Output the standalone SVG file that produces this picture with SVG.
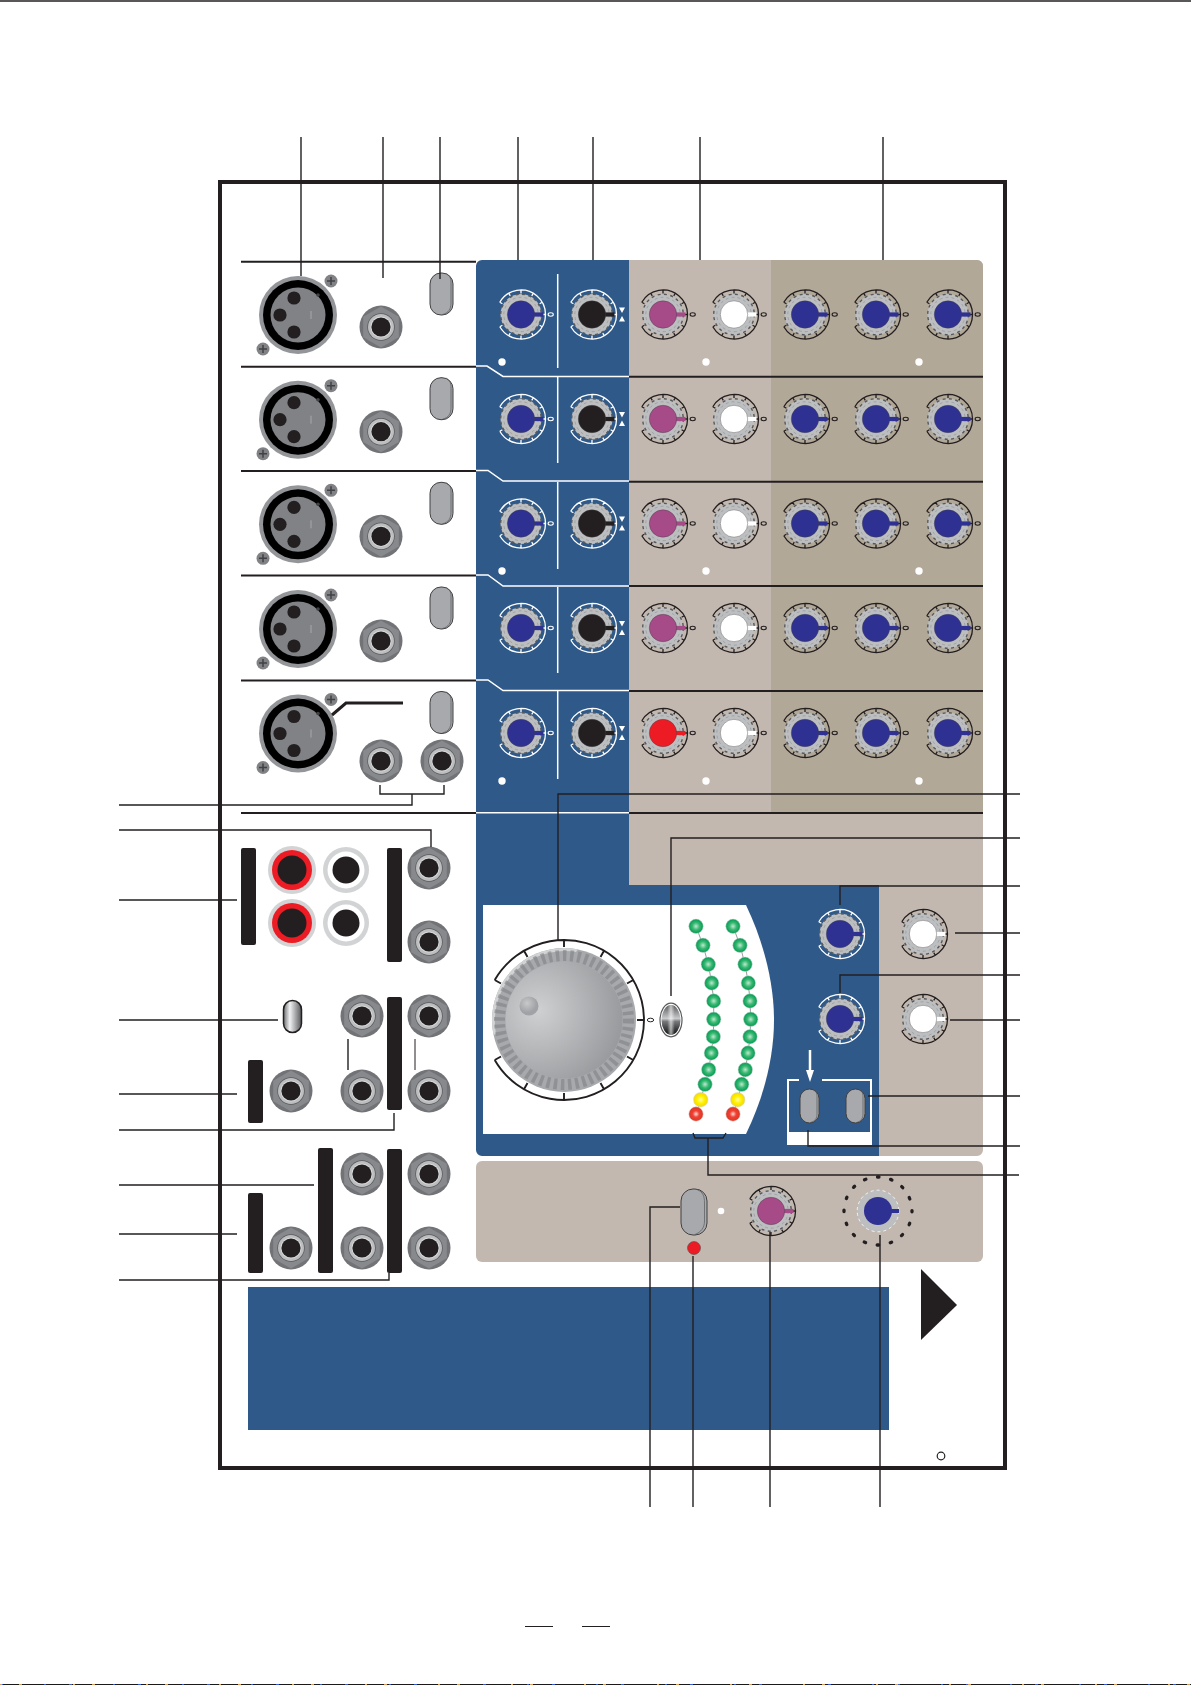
<svg xmlns="http://www.w3.org/2000/svg" width="1191" height="1685" viewBox="0 0 1191 1685">
<style>
.ld{fill:none;stroke:#231f20;stroke-width:1.4}
.lt{fill:none;stroke:#231f20;stroke-width:2}
.wl{fill:none;stroke:#fff;stroke-width:1.5}
.bar{fill:#231f20}
.dot{fill:#fff}
.blue{color:#2e3192}
.pink{color:#a64a88}
.wht{color:#fff}
.blk{color:#231f20}
.red{color:#ed1c24}
.onb{stroke:#fff}
.ont{stroke:#231f20}
.led{stroke:#d1d3d4;stroke-width:.5}
</style>
<defs>
<radialGradient id="gG"><stop offset="0" stop-color="#bfe8cd"/><stop offset=".5" stop-color="#39b873"/><stop offset="1" stop-color="#009a50"/></radialGradient>
<radialGradient id="gY"><stop offset="0" stop-color="#fffbb0"/><stop offset=".5" stop-color="#fff200"/><stop offset="1" stop-color="#f5d800"/></radialGradient>
<radialGradient id="gR"><stop offset="0" stop-color="#fde0d8"/><stop offset=".45" stop-color="#ef4136"/><stop offset="1" stop-color="#e0351f"/></radialGradient>
<radialGradient id="gCap" cx=".28" cy=".42" r=".85"><stop offset="0" stop-color="#cfd0d2"/><stop offset="1" stop-color="#8f9194"/></radialGradient>
<radialGradient id="gDim" cx=".4" cy=".35"><stop offset="0" stop-color="#c8c9cb"/><stop offset="1" stop-color="#a0a2a5"/></radialGradient>
<linearGradient id="gTog" x1="0" y1="0" x2="0" y2="1"><stop offset="0" stop-color="#58595b"/><stop offset=".45" stop-color="#c8c9cb"/><stop offset=".55" stop-color="#77787b"/><stop offset="1" stop-color="#0c0c0c"/></linearGradient>
<linearGradient id="gTogC"><stop offset=".3" stop-color="#fff" stop-opacity="0"/><stop offset=".5" stop-color="#fff" stop-opacity=".6"/><stop offset=".7" stop-color="#fff" stop-opacity="0"/></linearGradient>
<linearGradient id="gSw"><stop offset="0" stop-color="#6d6e71"/><stop offset=".35" stop-color="#f1f2f2"/><stop offset="1" stop-color="#58595b"/></linearGradient>
<g id="knob">
<path fill="none" stroke-width="1.3" d="M-21.2 12.25A24.5 24.5 0 1 0-21.2-12.25M24.5 0H21M21.2 12.25L18.6 10.75M12.25 21.2L10.75 18.6M0 24.5V21M-12.25 21.2L-10.75 18.6M-21.2 12.25L-18.6 10.75M21.2-12.25L18.6-10.75M12.25-21.2L10.75-18.6M0-24.5V-21M-12.25-21.2L-10.75-18.6M-21.2-12.25L-18.6-10.75"/>
<circle r="20.5" fill="#bcbec0" stroke="none"/>
<circle r="20.3" fill="none" stroke="#58595b" stroke-width="1.4" stroke-dasharray="3 3.4"/>
<circle r="17.2" fill="none" stroke="#939598" stroke-width=".7" stroke-dasharray="3 3"/>
<rect x="12" y="-2.1" width="10.5" height="4.2" fill="currentColor" stroke="none"/>
<circle r="13.7" fill="currentColor" stroke="#414042" stroke-width=".4"/>
</g>
<g id="knobz"><use href="#knob"/><ellipse cx="29.7" rx="2.6" ry="1.7" fill="none" stroke-width="1.1"/></g>
<g id="hg"><path d="M-3-7H3L0-1.5ZM-3 7H3L0 1.5Z" fill="#fff"/></g>
<g id="xlr">
<circle r="39" fill="#939598"/><circle r="35" fill="#000"/><circle r="27.5" fill="#808285"/>
<circle cx="-4" cy="-17" r="6.6" fill="#231f20"/><circle cx="-18" r="6.6" fill="#231f20"/><circle cx="-4" cy="17" r="6.6" fill="#231f20"/>
<circle cx="20" cy="-20" r="1.8" fill="#414042"/><rect x="12" y="-4" width="2" height="8" fill="#939598"/>
<circle cx="33" cy="-34" r="6.5" fill="#808285"/><path d="M33-38V-30M29-34H37" stroke="#414042" stroke-width="1.500"/>
<circle cx="-35" cy="34" r="6.5" fill="#808285"/><path d="M-35 30V38M-39 34H-31" stroke="#414042" stroke-width="1.500"/>
</g>
<g id="jack">
<circle r="21.5" fill="#727376"/>
<path d="M0-20.5L17.8-10.2V10.2L0 20.5L-17.8 10.2V-10.2Z" fill="#87898c"/>
<circle r="13.7" fill="#58595b"/><circle r="13" fill="#bcbec0"/><circle r="10.5" fill="#d9dadb"/><circle r="9.6" fill="#231f20"/>
</g>
<g id="rcar"><circle r="24" fill="#d1d3d4"/><circle r="20" fill="#ed1c24"/><circle r="14.5" fill="#231f20"/></g>
<g id="rcaw"><circle r="23" fill="#d1d3d4"/><circle r="18.5" fill="#fff"/><circle r="13.5" fill="#231f20"/></g>
<g id="sw"><rect x="-11.5" y="-21" width="23" height="42" rx="11" fill="#a7a9ac" stroke="#414042" stroke-width="1"/><path d="M5-20.5C9.500-17 9.500-15 9.500-10V9C9.500 15 7 19 1 20.500" fill="none" stroke="#58595b" stroke-width=".7"/></g>
<g id="sws"><rect x="-9.500" y="-17" width="19" height="34" rx="9.500" fill="#a7a9ac" stroke="#414042" stroke-width="1"/><path d="M4-16C7.500-14 7.500-12 7.500-8V8C7.500 12 6 15 1 16.500" fill="none" stroke="#58595b" stroke-width=".7"/></g>
</defs>

<g id="page">
<rect width="1191" height="1685" fill="#fff"/>
<path d="M0 1H1191" stroke="#231f20" stroke-width="1.4"/>
<path d="M0 1684.500H1191" stroke="#1a1a1a" stroke-width="1"/>
<path d="M0 1684.500H1191" stroke="#3b5bd0" stroke-width="1" stroke-dasharray="3 41 2 23"/>
<path d="M0 1684.500H1191" stroke="#d8a060" stroke-width="1" stroke-dasharray="2 17 3 51"/>
<path d="M525 1626.500H553M582 1626.500H610" stroke="#231f20" stroke-width="1.2"/>
</g>

<g id="panels">
<path d="M482 260H629V885H879V1156H482A6 6 0 0 1 476 1150V266A6 6 0 0 1 482 260Z" fill="#2f5989"/>
<path d="M629 260H977A6 6 0 0 1 983 266V1150A6 6 0 0 1 977 1156H879V885H629Z" fill="#c2b8af"/>
<path d="M771 260H977A6 6 0 0 1 983 266V813H771Z" fill="#b2a898"/>
<path d="M482 1161H977A6 6 0 0 1 983 1167V1256A6 6 0 0 1 977 1262H482A6 6 0 0 1 476 1256V1167A6 6 0 0 1 482 1161Z" fill="#c2b8af"/>
<path d="M483 905H746C765 945 774 985 774 1020C774 1055 765 1095 746 1134H483Z" fill="#fff"/>
<rect x="248" y="1287" width="641" height="143" fill="#2f5989"/>
<path d="M921 1269L957 1305L921 1340Z" fill="#231f20"/>
<rect x="220" y="182" width="785" height="1286" fill="none" stroke="#231f20" stroke-width="4"/>
<circle cx="941" cy="1456" r="3.8" fill="none" stroke="#231f20" stroke-width="1.2"/>
</g>

<g id="row-lines">
<path class="lt" d="M241 261.700H476M241 366.700H476M241 471H476M241 575.500H476M241 680.500H476M241 813H476"/>
<path class="wl" d="M476 366H487L503 376.500H629M476 470.500H488L503 481H629M476 575H488L503 586H629M476 680H488L503 690.500H629M476 812.700H629M557.700 274V368M557.700 377V463M557.700 482V569M557.700 587V673M557.700 691V779"/>
<path class="lt" d="M629 376.700H983M629 481.700H983M629 586H983M629 691H983M629 813H983"/>
<circle class="dot" cx="502" cy="362" r="3.700"/><circle class="dot" cx="706" cy="362" r="3.700"/><circle class="dot" cx="919" cy="362" r="3.700"/>
<circle class="dot" cx="502" cy="571" r="3.700"/><circle class="dot" cx="706" cy="571" r="3.700"/><circle class="dot" cx="919" cy="571" r="3.700"/>
<circle class="dot" cx="502" cy="781" r="3.700"/><circle class="dot" cx="706" cy="781" r="3.700"/><circle class="dot" cx="919" cy="781" r="3.700"/>
<circle class="dot" cx="721" cy="1211" r="3.300"/>
</g>

<g id="channel-1">
<g id="xlr-1"><use href="#xlr" x="298" y="315"/></g>
<g id="jack-1"><use href="#jack" x="381" y="327"/></g>
<g id="switch-1"><use href="#sw" x="441.500" y="294"/></g>
<g id="k1-1"><use href="#knobz" x="521" y="314.500" class="blue onb"/></g>
<g id="k1-2"><use href="#knob" x="592" y="314.500" class="blk onb"/><use href="#hg" x="622" y="314.500"/></g>
<g id="k1-3"><use href="#knobz" x="663" y="314.500" class="pink ont"/></g>
<g id="k1-4"><use href="#knobz" x="734" y="314.500" class="wht ont"/></g>
<g id="k1-5"><use href="#knobz" x="805" y="314.500" class="blue ont"/></g>
<g id="k1-6"><use href="#knobz" x="876" y="314.500" class="blue ont"/></g>
<g id="k1-7"><use href="#knobz" x="948" y="314.500" class="blue ont"/></g>
</g>
<g id="channel-2">
<g id="xlr-2"><use href="#xlr" x="298" y="419.700"/></g>
<g id="jack-2"><use href="#jack" x="381" y="431.700"/></g>
<g id="switch-2"><use href="#sw" x="441.500" y="398.700"/></g>
<g id="k2-1"><use href="#knobz" x="521" y="419" class="blue onb"/></g>
<g id="k2-2"><use href="#knob" x="592" y="419" class="blk onb"/><use href="#hg" x="622" y="419"/></g>
<g id="k2-3"><use href="#knobz" x="663" y="419" class="pink ont"/></g>
<g id="k2-4"><use href="#knobz" x="734" y="419" class="wht ont"/></g>
<g id="k2-5"><use href="#knobz" x="805" y="419" class="blue ont"/></g>
<g id="k2-6"><use href="#knobz" x="876" y="419" class="blue ont"/></g>
<g id="k2-7"><use href="#knobz" x="948" y="419" class="blue ont"/></g>
</g>
<g id="channel-3">
<g id="xlr-3"><use href="#xlr" x="298" y="524.300"/></g>
<g id="jack-3"><use href="#jack" x="381" y="536.300"/></g>
<g id="switch-3"><use href="#sw" x="441.500" y="503.300"/></g>
<g id="k3-1"><use href="#knobz" x="521" y="523.500" class="blue onb"/></g>
<g id="k3-2"><use href="#knob" x="592" y="523.500" class="blk onb"/><use href="#hg" x="622" y="523.500"/></g>
<g id="k3-3"><use href="#knobz" x="663" y="523.500" class="pink ont"/></g>
<g id="k3-4"><use href="#knobz" x="734" y="523.500" class="wht ont"/></g>
<g id="k3-5"><use href="#knobz" x="805" y="523.500" class="blue ont"/></g>
<g id="k3-6"><use href="#knobz" x="876" y="523.500" class="blue ont"/></g>
<g id="k3-7"><use href="#knobz" x="948" y="523.500" class="blue ont"/></g>
</g>
<g id="channel-4">
<g id="xlr-4"><use href="#xlr" x="298" y="629"/></g>
<g id="jack-4"><use href="#jack" x="381" y="641"/></g>
<g id="switch-4"><use href="#sw" x="441.500" y="608"/></g>
<g id="k4-1"><use href="#knobz" x="521" y="628" class="blue onb"/></g>
<g id="k4-2"><use href="#knob" x="592" y="628" class="blk onb"/><use href="#hg" x="622" y="628"/></g>
<g id="k4-3"><use href="#knobz" x="663" y="628" class="pink ont"/></g>
<g id="k4-4"><use href="#knobz" x="734" y="628" class="wht ont"/></g>
<g id="k4-5"><use href="#knobz" x="805" y="628" class="blue ont"/></g>
<g id="k4-6"><use href="#knobz" x="876" y="628" class="blue ont"/></g>
<g id="k4-7"><use href="#knobz" x="948" y="628" class="blue ont"/></g>
</g>
<g id="channel-5">
<g id="xlr-5"><use href="#xlr" x="298" y="733.500"/></g>
<g id="jack-5a"><use href="#jack" x="381" y="761"/></g>
<g id="jack-5b"><use href="#jack" x="442" y="761"/></g>
<g id="switch-5"><use href="#sw" x="441.500" y="712.500"/></g>
<g id="k5-1"><use href="#knobz" x="521" y="733" class="blue onb"/></g>
<g id="k5-2"><use href="#knob" x="592" y="733" class="blk onb"/><use href="#hg" x="622" y="733"/></g>
<g id="k5-3"><use href="#knobz" x="663" y="733" class="red ont"/></g>
<g id="k5-4"><use href="#knobz" x="734" y="733" class="wht ont"/></g>
<g id="k5-5"><use href="#knobz" x="805" y="733" class="blue ont"/></g>
<g id="k5-6"><use href="#knobz" x="876" y="733" class="blue ont"/></g>
<g id="k5-7"><use href="#knobz" x="948" y="733" class="blue ont"/></g>
</g>

<g id="rear-io">
<rect class="bar" x="241" y="848" width="15" height="97" rx="2"/>
<rect class="bar" x="387" y="848" width="15" height="114" rx="2"/>
<rect class="bar" x="248" y="1060" width="15" height="63" rx="2"/>
<rect class="bar" x="387" y="997" width="15" height="113" rx="2"/>
<rect class="bar" x="318" y="1148" width="15" height="125" rx="2"/>
<rect class="bar" x="387" y="1149" width="15" height="124" rx="2"/>
<rect class="bar" x="248" y="1193" width="15" height="80" rx="2"/>
<g id="rca-1"><use href="#rcar" x="292" y="870"/></g>
<g id="rca-2"><use href="#rcaw" x="346" y="870"/></g>
<g id="rca-3"><use href="#rcar" x="292" y="923"/></g>
<g id="rca-4"><use href="#rcaw" x="346" y="923"/></g>
<g id="jack-a"><use href="#jack" x="429" y="868"/></g>
<g id="jack-b"><use href="#jack" x="429" y="942"/></g>
<g id="jack-c"><use href="#jack" x="291" y="1091"/></g>
<g id="jack-d"><use href="#jack" x="362" y="1016"/></g>
<g id="jack-e"><use href="#jack" x="362" y="1091"/></g>
<g id="jack-f"><use href="#jack" x="429" y="1016"/></g>
<g id="jack-g"><use href="#jack" x="429" y="1091"/></g>
<g id="jack-h"><use href="#jack" x="362" y="1174"/></g>
<g id="jack-i"><use href="#jack" x="429" y="1174"/></g>
<g id="jack-j"><use href="#jack" x="291" y="1248"/></g>
<g id="jack-k"><use href="#jack" x="362" y="1248"/></g>
<g id="jack-l"><use href="#jack" x="429" y="1248"/></g>
<g id="small-toggle"><rect x="283.500" y="1000.500" width="18" height="32" rx="9" fill="url(#gSw)" stroke="#231f20" stroke-width="1.500"/></g>
</g>

<g id="main-knob">
<path fill="none" stroke="#231f20" stroke-width="1.900" d="M494.700 1060A80 80 0 1 0 494.700 980M644 1020H637M633.300 1060L627 1056.500M604 1089.300L600.500 1083M564 1100V1093M524 1089.300L527.500 1083M494.700 1060L501 1056.500M633.300 980L627 983.500M604 950.700L600.500 957M564 940V947M524 950.700L527.500 957M494.700 980L501 983.500"/>
<circle cx="564" cy="1020" r="72" fill="#a7a9ac"/>
<path d="M493.500 1035A72 72 0 0 1 578 949.500L576 952A70 70 0 0 0 496 1034Z" fill="#d1d3d4"/>
<circle cx="564" cy="1020" r="64.500" fill="none" stroke="#808285" stroke-width="11" stroke-dasharray="3.500 3.700" opacity=".6"/>
<circle cx="564" cy="1020" r="58.500" fill="url(#gCap)"/>
<circle cx="529" cy="1006" r="9.500" fill="url(#gDim)"/>
<ellipse cx="650.500" cy="1020" rx="3.200" ry="1.800" fill="none" stroke="#231f20" stroke-width="1"/>
</g>
<g id="main-toggle">
<ellipse cx="671" cy="1020" rx="11" ry="16.800" fill="#fff" stroke="#58595b" stroke-width="1.200"/>
<ellipse cx="671" cy="1020" rx="9.500" ry="15" fill="url(#gTog)"/>
<ellipse cx="671" cy="1020" rx="9.500" ry="15" fill="url(#gTogC)"/>
</g>
<g id="meters">
<path fill="none" stroke="#808285" stroke-width=".8" d="M696 926.300L703 945.300L708.300 964.300L711.700 983L713.700 1001L713.700 1019.300L713.300 1036.700L711.300 1053L708.700 1069.700L705 1084.300L700.700 1099.700L696 1114M733 926.300L740 945.300L745 964.300L748.300 983L750 1001L750.700 1019.300L750 1036.700L748 1053L745.300 1069.700L741.700 1084.300L737.700 1099.700L733 1114"/>
<g class="led" fill="url(#gG)">
<circle cx="696" cy="926.300" r="7.200"/><circle cx="703" cy="945.300" r="7.200"/><circle cx="708.300" cy="964.300" r="7.200"/><circle cx="711.700" cy="983" r="7.200"/><circle cx="713.700" cy="1001" r="7.200"/><circle cx="713.700" cy="1019.300" r="7.200"/><circle cx="713.300" cy="1036.700" r="7.200"/><circle cx="711.300" cy="1053" r="7.200"/><circle cx="708.700" cy="1069.700" r="7.200"/><circle cx="705" cy="1084.300" r="7.200"/>
<circle cx="733" cy="926.300" r="7.200"/><circle cx="740" cy="945.300" r="7.200"/><circle cx="745" cy="964.300" r="7.200"/><circle cx="748.300" cy="983" r="7.200"/><circle cx="750" cy="1001" r="7.200"/><circle cx="750.700" cy="1019.300" r="7.200"/><circle cx="750" cy="1036.700" r="7.200"/><circle cx="748" cy="1053" r="7.200"/><circle cx="745.300" cy="1069.700" r="7.200"/><circle cx="741.700" cy="1084.300" r="7.200"/>
</g>
<g class="led" fill="url(#gY)"><circle cx="700.700" cy="1099.700" r="7.200"/><circle cx="737.700" cy="1099.700" r="7.200"/></g>
<g class="led" fill="url(#gR)"><circle cx="696" cy="1114" r="7.200"/><circle cx="733" cy="1114" r="7.200"/></g>
</g>

<g id="master-controls">
<g id="master-k1"><use href="#knob" x="840" y="934" class="blue onb"/></g>
<g id="master-k2"><use href="#knob" x="840" y="1019" class="blue onb"/></g>
<g id="master-k3"><use href="#knob" x="923" y="934" class="wht ont"/></g>
<g id="master-k4"><use href="#knob" x="923" y="1019" class="wht ont"/></g>
<g id="switch-box">
<rect x="787" y="1079" width="85" height="66" fill="#fff"/>
<rect x="789" y="1081" width="81" height="51" fill="#2f5989"/>
<rect x="799" y="1079" width="23" height="2" fill="#2f5989"/>
<path d="M810 1050V1072" stroke="#fff" stroke-width="2.500"/><path d="M806 1070H814L810 1082Z" fill="#fff"/>
<g id="switch-l"><use href="#sws" x="809.500" y="1106"/></g>
<g id="switch-r"><use href="#sws" x="855.500" y="1106"/></g>
</g>
</g>

<g id="bottom-controls">
<g id="power-switch"><rect x="681" y="1189" width="26" height="46" rx="12" fill="#a7a9ac" stroke="#414042" stroke-width="1"/><path d="M697 1189.500C703 1192 704.500 1196 704.500 1203V1221C704.500 1228 701 1232 695 1234.500" fill="none" stroke="#58595b" stroke-width=".7"/></g>
<g id="power-led"><circle cx="694" cy="1248" r="6.500" fill="#ed1c24" stroke="#414042" stroke-width=".5"/></g>
<g id="pink-knob"><use href="#knob" x="771" y="1211" class="pink ont"/></g>
<g id="dial-knob">
<circle cx="878" cy="1211" r="34" fill="none" stroke="#231f20" stroke-width="3.300" stroke-linecap="round" stroke-dasharray="1.500 11.850" stroke-dashoffset=".750"/>
<circle cx="878" cy="1211" r="21" fill="#bcbec0"/><circle cx="878" cy="1211" r="20.800" fill="none" stroke="#fff" stroke-width=".8" stroke-dasharray="3 3"/>
<rect x="890" y="1209" width="9" height="4" fill="#2e3192"/>
<circle cx="878" cy="1211" r="14" fill="#2e3192"/>
</g>
</g>

<g id="connectors">
<path class="ld" d="M301 137V276M383 137V278M440 137V279M518 137V260M593 137V260M700 137V260M883 137V260"/>
<path class="ld" d="M119 805H412V794M380 785V794H444V785"/>
<path class="ld" d="M119 830H431V847M119 900H237M119 1020H278M119 1094H237M119 1130H394V1113M119 1185H314M119 1234H237M119 1280H389V1273"/>
<path class="ld" d="M558 940V794H1020M671 996V838H1020M840 905V886H1020M955 933H1020M840 993V975H1020M950 1020H1020M868 1096H1020M808 1130V1146H1020"/>
<path class="ld" d="M693 1133L695 1138H723L726 1133M708 1138V1175H1019"/>
<path class="ld" d="M650 1507V1207H680M693 1507V1256M770 1507V1232M880 1507V1235"/>
<path d="M332 715L346 703H403" fill="none" stroke="#231f20" stroke-width="3"/>
<path class="ld" d="M348 1039V1070"/><path class="ld" style="stroke-width:1" d="M415 1039V1070"/>
</g>
</svg>
